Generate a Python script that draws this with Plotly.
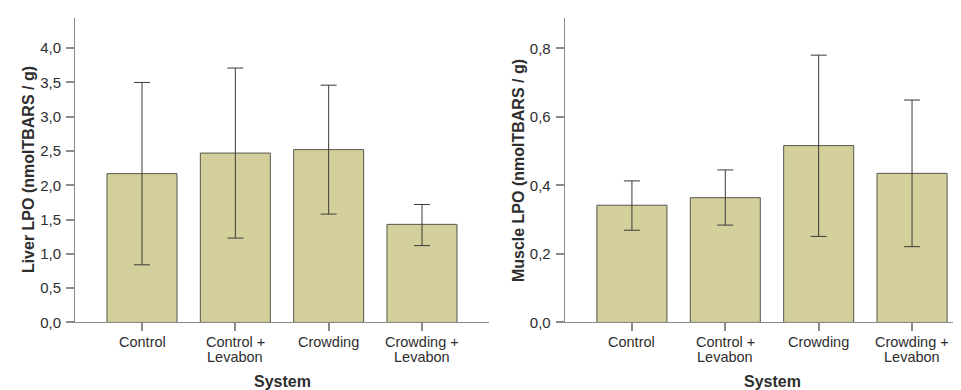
import plotly.graph_objects as go

categories = ["Control", "Control +", "Crowding", "Crowding +"]
category_second_line = ["", "Levabon", "", "Levabon"]

liver_mean = [2.17, 2.47, 2.52, 1.43]
liver_upper = [3.50, 3.71, 3.46, 1.72]
liver_lower = [0.84, 1.23, 1.58, 1.12]

muscle_mean = [0.342, 0.364, 0.516, 0.435]
muscle_upper = [0.413, 0.445, 0.780, 0.649]
muscle_lower = [0.269, 0.284, 0.251, 0.221]

liver_ticks = [0.0, 0.5, 1.0, 1.5, 2.0, 2.5, 3.0, 3.5, 4.0]
muscle_ticks = [0.0, 0.2, 0.4, 0.6, 0.8]

W, H = 961, 390
BAR = "#d4d09b"
EDGE = "#55554d"
AXIS = "#8a8a8a"
TXT = "#2e2e2e"
FONT = "Liberation Sans, Arial, sans-serif"

xpos = list(range(len(categories)))

def bar_trace(mean, upper, lower, xa, ya):
    return go.Bar(
        x=xpos, y=mean, width=0.75,
        marker=dict(color=BAR, line=dict(color=EDGE, width=1)),
        error_y=dict(type="data", symmetric=False,
                     array=[u - m for u, m in zip(upper, mean)],
                     arrayminus=[m - l for m, l in zip(mean, lower)],
                     color="#3a3a3a", thickness=1, width=8),
        xaxis=xa, yaxis=ya, showlegend=False, hoverinfo="skip",
    )

fig = go.Figure()
fig.add_trace(bar_trace(liver_mean, liver_upper, liver_lower, "x", "y"))
fig.add_trace(bar_trace(muscle_mean, muscle_upper, muscle_lower, "x2", "y2"))

ydom = [(H - 321) / H, (H - 10) / H]
xd1 = [67 / W, 481 / W]
xd2 = [556.7 / W, 1.0]

common_x = dict(showline=True, linecolor=AXIS, linewidth=1, ticks="outside",
                ticklen=8, tickcolor=AXIS, tickwidth=1.5, showgrid=False, zeroline=False,
                tickmode="array", tickvals=xpos, showticklabels=False)
common_y = dict(showline=True, linecolor=AXIS, linewidth=1, ticks="outside",
                ticklen=8, tickcolor=AXIS, tickwidth=1.5, showgrid=False, zeroline=False,
                tickformat=".1f", tickmode="array", ticklabelstandoff=2,
                tickfont=dict(family=FONT, size=15, color=TXT))

fig.update_layout(
    width=W, height=H, margin=dict(l=0, r=0, t=0, b=0),
    paper_bgcolor="white", plot_bgcolor="white",
    separators=", ",
    xaxis=dict(domain=xd1, range=[-0.718, 3.718], anchor="y", **common_x),
    yaxis=dict(domain=ydom, range=[0, 4.443], anchor="x", tickvals=liver_ticks, **common_y),
    xaxis2=dict(domain=xd2, range=[-0.72, 3.61], anchor="y2", **common_x),
    yaxis2=dict(domain=ydom, range=[0, 0.889], anchor="x2", tickvals=muscle_ticks, **common_y),
)

ann = []
lab = dict(family=FONT, size=14.5, color=TXT)
for xa in ("x", "x2"):
    for i, (t1, t2) in enumerate(zip(categories, category_second_line)):
        ann.append(dict(x=i, y=(H - 341.5) / H, xref=xa, yref="paper", text=t1,
                        showarrow=False, xanchor="center", yanchor="middle", font=lab))
        if t2:
            ann.append(dict(x=i, y=(H - 356) / H, xref=xa, yref="paper", text=t2,
                            showarrow=False, xanchor="center", yanchor="middle", font=lab))

bold = dict(family=FONT, size=16, color=TXT)
ann.append(dict(x=274 / W, y=(H - 381) / H, xref="paper", yref="paper", text="<b>System</b>",
                showarrow=False, xanchor="center", yanchor="middle", font=bold))
ann.append(dict(x=764 / W, y=(H - 381) / H, xref="paper", yref="paper", text="<b>System</b>",
                showarrow=False, xanchor="center", yanchor="middle", font=bold))
ann.append(dict(x=20 / W, y=(H - 165.5) / H, xref="paper", yref="paper",
                text="<b>Liver LPO (nmolTBARS / g)</b>", textangle=-90,
                showarrow=False, xanchor="center", yanchor="middle", font=bold))
ann.append(dict(x=510 / W, y=(H - 165.5) / H, xref="paper", yref="paper",
                text="<b>Muscle LPO (nmolTBARS / g)</b>", textangle=-90,
                showarrow=False, xanchor="center", yanchor="middle", font=bold))
fig.update_layout(annotations=ann)

fig.write_html("out.html")
